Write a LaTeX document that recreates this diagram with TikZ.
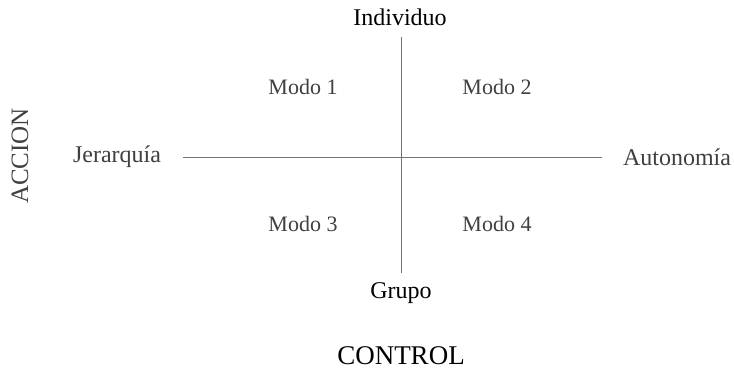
\documentclass[tikz,border=0pt]{standalone}
\usepackage{fontspec}
\setmainfont{Liberation Serif}
\tikzset{
    eje/.style={draw=black!55, line width=0.9pt},
    modo/.style={text=black!75, font=\fontsize{22}{26}\selectfont},
    polo/.style={text=black!75, font=\fontsize{24}{28}\selectfont},
    titulo/.style={text=black, font=\fontsize{24}{28}\selectfont}
}
\begin{document}
\begin{tikzpicture}[x=1pt,y=-1pt]
        \useasboundingbox (0,0) rectangle (734,375);
        \coordinate (izq) at (183,157);
        \coordinate (der) at (602,157);
        \coordinate (arr) at (401,37);
        \coordinate (aba) at (401,273);
        \draw [eje] (izq) -- (der);
        \draw [eje] (arr) -- (aba);
        \node [titulo] (ind) at (400,17) {Individuo};
        \node [titulo] (gru) at (401,293) {Grupo};
        \node [titulo, font=\fontsize{27}{31}\selectfont] (ctl) at (401,356) {CONTROL};
        \node [polo] (jer) at (117,157) {Jerarquía};
        \node [polo] (aut) at (677,157) {Autonomía};
        \node [polo, rotate=90, font=\fontsize{25}{29}\selectfont] (acc) at (20,156) {ACCION};
        \node [modo] (m1) at (303,87) {Modo 1};
        \node [modo] (m2) at (497,87) {Modo 2};
        \node [modo] (m3) at (303,224) {Modo 3};
        \node [modo] (m4) at (497,224) {Modo 4};
    \end{tikzpicture}
\end{document}
